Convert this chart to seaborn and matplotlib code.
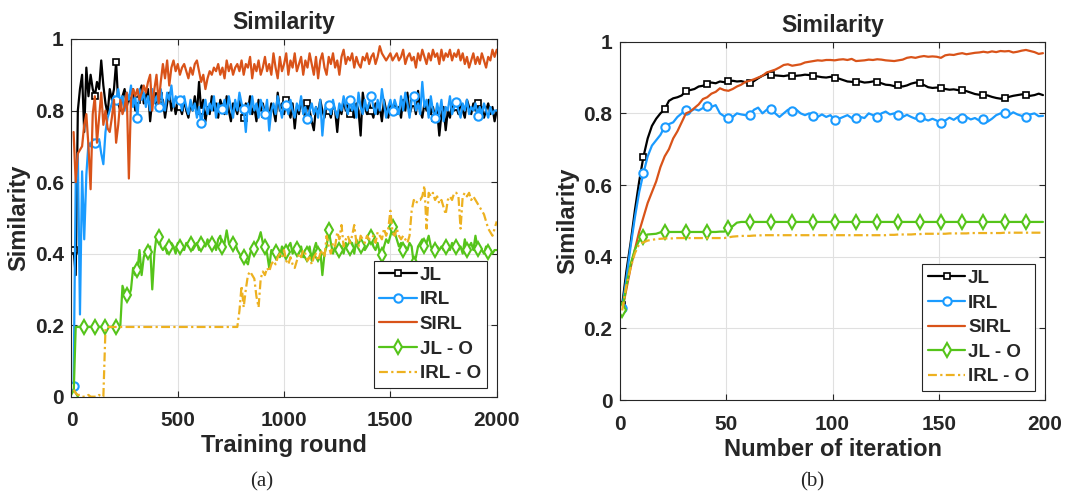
import numpy as np
import matplotlib
matplotlib.use("Agg")
import matplotlib.pyplot as plt
import seaborn as sns

# ---- data: (a) similarity vs training round (every 10 rounds) ----
rounds = np.arange(10, 2001, 10)

jl_a = [
    0.41, 0.34, 0.80, 0.86, 0.90, 0.74, 0.92, 0.84, 0.90, 0.86,
    0.84, 0.88, 0.86, 0.94, 0.87, 0.82, 0.79, 0.86, 0.83, 0.86,
    0.935, 0.82, 0.80, 0.84, 0.86, 0.81, 0.84, 0.82, 0.86, 0.80,
    0.83, 0.85, 0.87, 0.82, 0.84, 0.86, 0.77, 0.83, 0.85, 0.81,
    0.84, 0.80, 0.83, 0.78, 0.82, 0.85, 0.80, 0.83, 0.79, 0.82,
    0.81, 0.79, 0.83, 0.80, 0.78, 0.82, 0.80, 0.84, 0.79, 0.88,
    0.80, 0.83, 0.77, 0.81, 0.79, 0.84, 0.80, 0.82, 0.78, 0.83,
    0.81, 0.79, 0.84, 0.80, 0.77, 0.82, 0.81, 0.79, 0.83, 0.80,
    0.78, 0.82, 0.80, 0.84, 0.79, 0.81, 0.77, 0.83, 0.80, 0.82,
    0.79, 0.81, 0.78, 0.82, 0.80, 0.77, 0.85, 0.80, 0.82, 0.79,
    0.83, 0.80, 0.78, 0.82, 0.75, 0.81, 0.79, 0.83, 0.80, 0.78,
    0.82, 0.80, 0.77, 0.745, 0.81, 0.79, 0.83, 0.80, 0.78, 0.82,
    0.80, 0.78, 0.82, 0.80, 0.74, 0.81, 0.79, 0.83, 0.80, 0.82,
    0.79, 0.81, 0.78, 0.82, 0.80, 0.73, 0.85, 0.81, 0.79, 0.82,
    0.80, 0.78, 0.82, 0.79, 0.81, 0.77, 0.83, 0.80, 0.78, 0.82,
    0.80, 0.82, 0.79, 0.81, 0.78, 0.83, 0.80, 0.85, 0.79, 0.81,
    0.82, 0.79, 0.855, 0.80, 0.78, 0.82, 0.80, 0.83, 0.79, 0.81,
    0.78, 0.80, 0.73, 0.79, 0.81, 0.745, 0.80, 0.78, 0.82, 0.80,
    0.81, 0.79, 0.82, 0.80, 0.78, 0.83, 0.81, 0.79, 0.82, 0.80,
    0.82, 0.79, 0.81, 0.78, 0.80, 0.82, 0.79, 0.81, 0.77, 0.80,
]

irl_a = [
    0.03, 0.60, 0.68, 0.23, 0.63, 0.44, 0.62, 0.71, 0.70, 0.72,
    0.71, 0.70, 0.72, 0.68, 0.65, 0.74, 0.78, 0.80, 0.82, 0.84,
    0.83, 0.86, 0.82, 0.84, 0.80, 0.85, 0.83, 0.87, 0.81, 0.84,
    0.78, 0.86, 0.83, 0.85, 0.81, 0.84, 0.80, 0.86, 0.82, 0.84,
    0.81, 0.86, 0.82, 0.80, 0.85, 0.83, 0.87, 0.81, 0.84, 0.82,
    0.83, 0.80, 0.84, 0.81, 0.79, 0.83, 0.80, 0.82, 0.78, 0.81,
    0.765, 0.80, 0.83, 0.79, 0.82, 0.80, 0.84, 0.78, 0.82, 0.80,
    0.805, 0.83, 0.79, 0.84, 0.81, 0.78, 0.83, 0.80, 0.85, 0.82,
    0.805, 0.74, 0.82, 0.79, 0.84, 0.80, 0.82, 0.78, 0.83, 0.81,
    0.79, 0.83, 0.744, 0.80, 0.82, 0.79, 0.84, 0.81, 0.78, 0.82,
    0.815, 0.79, 0.83, 0.80, 0.78, 0.82, 0.80, 0.84, 0.79, 0.81,
    0.775, 0.80, 0.82, 0.79, 0.81, 0.78, 0.83, 0.73, 0.80, 0.82,
    0.815, 0.79, 0.83, 0.80, 0.78, 0.82, 0.80, 0.84, 0.81, 0.79,
    0.83, 0.80, 0.82, 0.78, 0.85, 0.81, 0.79, 0.83, 0.80, 0.82,
    0.84, 0.81, 0.79, 0.83, 0.80, 0.86, 0.82, 0.78, 0.81, 0.83,
    0.80, 0.83, 0.81, 0.79, 0.84, 0.80, 0.85, 0.82, 0.78, 0.83,
    0.84, 0.80, 0.82, 0.79, 0.88, 0.81, 0.83, 0.78, 0.84, 0.80,
    0.78, 0.82, 0.79, 0.83, 0.77, 0.81, 0.80, 0.84, 0.79, 0.81,
    0.825, 0.80, 0.78, 0.82, 0.80, 0.83, 0.79, 0.81, 0.80, 0.82,
    0.785, 0.81, 0.79, 0.82, 0.80, 0.78, 0.81, 0.79, 0.80, 0.80,
]

sirl_a = [
    0.74, 0.60, 0.68, 0.69, 0.70, 0.76, 0.79, 0.70, 0.58, 0.79,
    0.84, 0.71, 0.78, 0.85, 0.76, 0.80, 0.75, 0.74, 0.78, 0.83,
    0.71, 0.76, 0.83, 0.79, 0.81, 0.85, 0.61, 0.83, 0.86, 0.84,
    0.86, 0.83, 0.85, 0.87, 0.85, 0.88, 0.90, 0.80, 0.86, 0.90,
    0.82, 0.88, 0.93, 0.89, 0.94, 0.87, 0.92, 0.94, 0.91, 0.93,
    0.90, 0.92, 0.93, 0.91, 0.89, 0.92, 0.90, 0.93, 0.94, 0.91,
    0.88, 0.90, 0.86, 0.89, 0.91, 0.90, 0.92, 0.91, 0.93, 0.90,
    0.92, 0.89, 0.94, 0.91, 0.93, 0.90, 0.92, 0.93, 0.91, 0.94,
    0.90, 0.93, 0.92, 0.95, 0.89, 0.93, 0.91, 0.94, 0.90, 0.92,
    0.95, 0.91, 0.93, 0.90, 0.96, 0.92, 0.89, 0.95, 0.91, 0.93,
    0.96, 0.90, 0.94, 0.92, 0.96, 0.91, 0.93, 0.95, 0.90, 0.94,
    0.92, 0.96, 0.93, 0.90, 0.95, 0.89, 0.94, 0.96, 0.92, 0.90,
    0.95, 0.93, 0.96, 0.92, 0.94, 0.90, 0.95, 0.97, 0.93, 0.95,
    0.94, 0.96, 0.92, 0.95, 0.93, 0.92, 0.95, 0.94, 0.96, 0.93,
    0.95, 0.96, 0.93, 0.95, 0.98, 0.96, 0.95, 0.94, 0.95, 0.96,
    0.94, 0.95, 0.96, 0.94, 0.95, 0.97, 0.93, 0.95, 0.96, 0.94,
    0.95, 0.92, 0.96, 0.94, 0.97, 0.95, 0.93, 0.96, 0.94, 0.97,
    0.95, 0.96, 0.93, 0.97, 0.94, 0.96, 0.95, 0.97, 0.94, 0.96,
    0.95, 0.97, 0.94, 0.96, 0.93, 0.95, 0.92, 0.94, 0.96, 0.93,
    0.95, 0.93, 0.96, 0.94, 0.92, 0.95, 0.94, 0.97, 0.95, 0.97,
]

jlo_a = [
    0.0, 0.195, 0.195, 0.195, 0.195, 0.195, 0.195, 0.195, 0.195, 0.195,
    0.195, 0.195, 0.195, 0.195, 0.195, 0.195, 0.195, 0.195, 0.195, 0.195,
    0.195, 0.195, 0.20, 0.31, 0.29, 0.285, 0.28, 0.30, 0.36, 0.34,
    0.353, 0.41, 0.34, 0.39, 0.41, 0.405, 0.42, 0.30, 0.40, 0.45,
    0.447, 0.42, 0.41, 0.42, 0.40, 0.419, 0.43, 0.42, 0.40, 0.43,
    0.419, 0.42, 0.41, 0.43, 0.42, 0.428, 0.41, 0.42, 0.43, 0.41,
    0.428, 0.43, 0.42, 0.44, 0.42, 0.428, 0.43, 0.41, 0.44, 0.45,
    0.419, 0.43, 0.465, 0.43, 0.42, 0.428, 0.43, 0.41, 0.40, 0.39,
    0.391, 0.38, 0.37, 0.40, 0.42, 0.414, 0.43, 0.44, 0.46, 0.43,
    0.419, 0.40, 0.36, 0.41, 0.40, 0.405, 0.41, 0.39, 0.42, 0.41,
    0.405, 0.42, 0.43, 0.40, 0.41, 0.414, 0.40, 0.42, 0.39, 0.41,
    0.40, 0.42, 0.38, 0.41, 0.43, 0.40, 0.41, 0.34, 0.40, 0.42,
    0.465, 0.43, 0.40, 0.42, 0.41, 0.41, 0.42, 0.40, 0.43, 0.41,
    0.415, 0.43, 0.40, 0.44, 0.42, 0.42, 0.43, 0.41, 0.42, 0.43,
    0.447, 0.42, 0.41, 0.43, 0.40, 0.395, 0.42, 0.44, 0.43, 0.45,
    0.474, 0.46, 0.44, 0.42, 0.43, 0.409, 0.42, 0.41, 0.43, 0.42,
    0.37, 0.39, 0.42, 0.43, 0.44, 0.42, 0.43, 0.45, 0.42, 0.41,
    0.409, 0.42, 0.41, 0.42, 0.41, 0.419, 0.42, 0.41, 0.43, 0.42,
    0.419, 0.41, 0.42, 0.40, 0.44, 0.409, 0.42, 0.43, 0.41, 0.45,
    0.414, 0.42, 0.41, 0.40, 0.42, 0.405, 0.41, 0.40, 0.41, 0.41,
]

irlo_a = [
    0.02, 0.01, 0.005, 0.005, 0.0, 0.0, 0.0, 0.005, 0.0, 0.0,
    0.0, 0.0, 0.005, 0.0, 0.0, 0.19, 0.195, 0.195, 0.195, 0.195,
    0.195, 0.195, 0.195, 0.195, 0.195, 0.195, 0.195, 0.195, 0.195, 0.195,
    0.195, 0.195, 0.195, 0.195, 0.195, 0.195, 0.195, 0.195, 0.195, 0.195,
    0.195, 0.195, 0.195, 0.195, 0.195, 0.195, 0.195, 0.195, 0.195, 0.195,
    0.195, 0.195, 0.195, 0.195, 0.195, 0.195, 0.195, 0.195, 0.195, 0.195,
    0.195, 0.195, 0.195, 0.195, 0.195, 0.195, 0.195, 0.195, 0.195, 0.195,
    0.195, 0.195, 0.195, 0.195, 0.195, 0.195, 0.195, 0.195, 0.24, 0.31,
    0.25, 0.30, 0.34, 0.35, 0.34, 0.33, 0.28, 0.25, 0.33, 0.35,
    0.34, 0.36, 0.35, 0.37, 0.38, 0.37, 0.39, 0.40, 0.39, 0.41,
    0.38, 0.37, 0.39, 0.37, 0.36, 0.38, 0.40, 0.39, 0.41, 0.40,
    0.38, 0.39, 0.37, 0.39, 0.40, 0.38, 0.40, 0.41, 0.39, 0.45,
    0.42, 0.40, 0.43, 0.42, 0.46, 0.44, 0.48, 0.42, 0.44, 0.45,
    0.43, 0.45, 0.48, 0.43, 0.42, 0.45, 0.44, 0.43, 0.45, 0.44,
    0.44, 0.45, 0.43, 0.46, 0.45, 0.44, 0.47, 0.45, 0.47, 0.52,
    0.46, 0.45, 0.47, 0.45, 0.44, 0.45, 0.44, 0.43, 0.45, 0.52,
    0.55, 0.54, 0.55, 0.55, 0.56, 0.59, 0.47, 0.57, 0.56, 0.57,
    0.55, 0.56, 0.54, 0.55, 0.53, 0.51, 0.55, 0.56, 0.55, 0.57,
    0.57, 0.56, 0.47, 0.56, 0.57, 0.56, 0.57, 0.55, 0.56, 0.55,
    0.54, 0.53, 0.52, 0.51, 0.49, 0.47, 0.46, 0.45, 0.47, 0.49,
]

# ---- data: (b) similarity vs number of iteration (every 2 iterations) ----
iters = np.arange(1, 201, 2)

jl_b = [
    0.265, 0.36, 0.44, 0.53, 0.61, 0.679, 0.73, 0.765, 0.785, 0.80,
    0.811, 0.835, 0.842, 0.845, 0.85, 0.863, 0.865, 0.868, 0.875, 0.877,
    0.883, 0.886, 0.884, 0.889, 0.887, 0.889, 0.891, 0.889, 0.890, 0.887,
    0.885, 0.890, 0.898, 0.905, 0.910, 0.908, 0.906, 0.905, 0.904, 0.906,
    0.903, 0.905, 0.906, 0.908, 0.907, 0.905, 0.903, 0.901, 0.900, 0.902,
    0.899, 0.897, 0.893, 0.889, 0.888, 0.887, 0.889, 0.886, 0.887, 0.889,
    0.888, 0.884, 0.880, 0.879, 0.876, 0.878, 0.875, 0.878, 0.883, 0.886,
    0.885, 0.879, 0.873, 0.871, 0.872, 0.870, 0.868, 0.866, 0.867, 0.865,
    0.864, 0.862, 0.858, 0.854, 0.852, 0.851, 0.850, 0.846, 0.843, 0.841,
    0.843, 0.846, 0.849, 0.851, 0.853, 0.852, 0.849, 0.851, 0.855, 0.851,
]

irl_b = [
    0.256, 0.34, 0.43, 0.51, 0.58, 0.633, 0.68, 0.71, 0.725, 0.74,
    0.763, 0.77, 0.775, 0.79, 0.80, 0.809, 0.805, 0.812, 0.808, 0.815,
    0.821, 0.818, 0.823, 0.80, 0.792, 0.788, 0.79, 0.80, 0.797, 0.795,
    0.795, 0.81, 0.816, 0.80, 0.81, 0.812, 0.80, 0.79, 0.80, 0.81,
    0.807, 0.81, 0.80, 0.795, 0.80, 0.793, 0.79, 0.797, 0.79, 0.795,
    0.781, 0.785, 0.79, 0.795, 0.787, 0.786, 0.79, 0.787, 0.80, 0.795,
    0.791, 0.80, 0.805, 0.797, 0.80, 0.795, 0.79, 0.796, 0.79, 0.785,
    0.791, 0.785, 0.78, 0.785, 0.78, 0.772, 0.78, 0.788, 0.782, 0.79,
    0.786, 0.79, 0.783, 0.787, 0.78, 0.785, 0.777, 0.785, 0.795, 0.80,
    0.800, 0.795, 0.803, 0.797, 0.793, 0.791, 0.797, 0.80, 0.792, 0.793,
]

sirl_b = [
    0.25, 0.31, 0.37, 0.42, 0.47, 0.51, 0.55, 0.58, 0.61, 0.65,
    0.68, 0.70, 0.73, 0.75, 0.775, 0.80, 0.805, 0.815, 0.825, 0.84,
    0.845, 0.855, 0.86, 0.87, 0.865, 0.863, 0.868, 0.875, 0.88, 0.888,
    0.891, 0.895, 0.90, 0.905, 0.914, 0.918, 0.922, 0.928, 0.935, 0.937,
    0.933, 0.935, 0.937, 0.942, 0.944, 0.946, 0.948, 0.947, 0.949, 0.949,
    0.948, 0.950, 0.951, 0.949, 0.952, 0.946, 0.947, 0.948, 0.950, 0.949,
    0.951, 0.950, 0.948, 0.947, 0.946, 0.948, 0.950, 0.955, 0.957, 0.955,
    0.958, 0.960, 0.958, 0.959, 0.958, 0.955, 0.962, 0.964, 0.963, 0.966,
    0.968, 0.965, 0.967, 0.969, 0.970, 0.972, 0.970, 0.973, 0.971, 0.974,
    0.973, 0.974, 0.970, 0.972, 0.975, 0.977, 0.974, 0.971, 0.966, 0.968,
]

jlo_b = [
    0.25, 0.32, 0.38, 0.42, 0.445, 0.456, 0.462, 0.463, 0.464, 0.468,
    0.469, 0.469, 0.469, 0.469, 0.469, 0.469, 0.469, 0.469, 0.469, 0.469,
    0.469, 0.469, 0.469, 0.470, 0.470, 0.479, 0.485, 0.495, 0.497, 0.497,
    0.497, 0.497, 0.497, 0.497, 0.497, 0.497, 0.497, 0.497, 0.497, 0.497,
    0.497, 0.497, 0.497, 0.497, 0.497, 0.497, 0.497, 0.497, 0.497, 0.497,
    0.497, 0.497, 0.497, 0.497, 0.497, 0.497, 0.497, 0.497, 0.497, 0.497,
    0.497, 0.497, 0.497, 0.497, 0.497, 0.497, 0.497, 0.497, 0.497, 0.497,
    0.497, 0.497, 0.497, 0.497, 0.497, 0.497, 0.497, 0.497, 0.497, 0.497,
    0.497, 0.497, 0.497, 0.497, 0.497, 0.497, 0.497, 0.497, 0.497, 0.497,
    0.497, 0.497, 0.497, 0.497, 0.497, 0.497, 0.497, 0.497, 0.497, 0.497,
]

irlo_b = [
    0.25, 0.32, 0.37, 0.41, 0.435, 0.44, 0.445, 0.447, 0.449, 0.450,
    0.451, 0.451, 0.451, 0.452, 0.452, 0.452, 0.452, 0.452, 0.452, 0.452,
    0.452, 0.452, 0.452, 0.452, 0.452, 0.454, 0.456, 0.457, 0.458, 0.458,
    0.458, 0.459, 0.459, 0.460, 0.460, 0.460, 0.460, 0.460, 0.460, 0.460,
    0.460, 0.460, 0.460, 0.460, 0.460, 0.460, 0.460, 0.460, 0.460, 0.460,
    0.460, 0.460, 0.460, 0.460, 0.460, 0.460, 0.460, 0.460, 0.460, 0.460,
    0.460, 0.460, 0.460, 0.461, 0.461, 0.462, 0.462, 0.462, 0.462, 0.463,
    0.463, 0.464, 0.464, 0.464, 0.464, 0.464, 0.464, 0.465, 0.465, 0.465,
    0.465, 0.465, 0.466, 0.466, 0.466, 0.466, 0.466, 0.466, 0.466, 0.466,
    0.467, 0.467, 0.467, 0.467, 0.467, 0.467, 0.467, 0.467, 0.467, 0.467,
]

y_ticks = [0, 0.2, 0.4, 0.6, 0.8, 1]
y_tick_labels = ["0", "0.2", "0.4", "0.6", "0.8", "1"]
x_ticks_a = [0, 500, 1000, 1500, 2000]
x_ticks_b = [0, 50, 100, 150, 200]

C_JL = "#000000"
C_IRL = "#1A9BFF"
C_SIRL = "#D95319"
C_JLO = "#55C41A"
C_IRLO = "#EDB120"

sns.set_theme(style="whitegrid")
plt.rcParams.update(
    {
        "font.family": ["Liberation Sans", "DejaVu Sans"],
        "font.weight": "bold",
        "axes.edgecolor": "#262626",
        "axes.linewidth": 0.8,
        "grid.color": "#E0E0E0",
        "grid.linewidth": 0.8,
        "xtick.direction": "in",
        "ytick.direction": "in",
        "xtick.top": True,
        "ytick.right": True,
        "xtick.bottom": True,
        "ytick.left": True,
        "xtick.major.size": 4,
        "ytick.major.size": 4,
        "xtick.major.width": 0.8,
        "ytick.major.width": 0.8,
        "xtick.color": "#262626",
        "ytick.color": "#262626",
    }
)


def draw_panel(ax, x, jl, irl, sirl, jlo, irlo, mk, mk_d):
    lw = 1.6
    sns.lineplot(x=x, y=jl, ax=ax, color=C_JL, lw=lw, marker="s", ms=4,
                 mfc="white", mec=C_JL, mew=1.2, markevery=mk, errorbar=None,
                 label="JL")
    sns.lineplot(x=x, y=irl, ax=ax, color=C_IRL, lw=lw, marker="o", ms=6,
                 mfc="white", mec=C_IRL, mew=1.5, markevery=mk, errorbar=None,
                 label="IRL")
    sns.lineplot(x=x, y=sirl, ax=ax, color=C_SIRL, lw=lw, errorbar=None,
                 label="SIRL")
    sns.lineplot(x=x, y=jlo, ax=ax, color=C_JLO, lw=lw, marker="d", ms=7,
                 mfc="white", mec=C_JLO, mew=1.5, markevery=mk_d,
                 errorbar=None, label="JL - O")
    sns.lineplot(x=x, y=irlo, ax=ax, color=C_IRLO, lw=lw,
                 linestyle=(0, (4, 1.5, 1, 1.5)), errorbar=None, label="IRL - O")


fig = plt.figure(figsize=(10.65, 4.93), dpi=100)
ax_a = fig.add_axes([0.0671, 0.1953, 0.3993, 0.7256])
ax_b = fig.add_axes([0.5822, 0.1886, 0.3991, 0.7268])

draw_panel(ax_a, rounds, jl_a, irl_a, sirl_a, jlo_a, irlo_a, 10, 5)
draw_panel(ax_b, iters, jl_b, irl_b, sirl_b, jlo_b, irlo_b, 5, 5)

for ax, xt, xlab, xmax in [
    (ax_a, x_ticks_a, "Training round", 2000),
    (ax_b, x_ticks_b, "Number of iteration", 200),
]:
    ax.set_xlim(0, xmax)
    ax.set_ylim(0, 1)
    ax.set_xticks(xt)
    ax.set_xticklabels([str(t) for t in xt], fontsize=15, fontweight="bold")
    ax.set_yticks(y_ticks)
    ax.set_yticklabels(y_tick_labels, fontsize=15, fontweight="bold")
    ax.tick_params(axis="x", pad=10.5)
    ax.tick_params(axis="y", pad=5.5)
    ax.set_xlabel(xlab, fontsize=17, fontweight="bold", labelpad=3)
    ax.set_ylabel("Similarity", fontsize=17, fontweight="bold", labelpad=3)
    ax.set_title("Similarity", fontsize=16.5, fontweight="bold", pad=7)
    for s in ax.spines.values():
        s.set_visible(True)
    ax.grid(True)
    leg = ax.legend(
        loc="lower right",
        bbox_to_anchor=(0.976, 0.025),
        borderaxespad=0,
        fancybox=False,
        framealpha=1,
        edgecolor="#262626",
        prop={"size": 13.5, "weight": "bold"},
        handlelength=2.0,
        handletextpad=0.15,
        labelspacing=0.4,
        borderpad=0.3,
    )
    leg.get_frame().set_linewidth(0.8)

fig.text(262 / 1065, 1 - 482 / 493, "(a)", ha="center", va="center",
         family="Liberation Serif", fontsize=15, fontweight="normal")
fig.text(812 / 1065, 1 - 482 / 493, "(b)", ha="center", va="center",
         family="Liberation Serif", fontsize=15, fontweight="normal")

fig.savefig("out.png", dpi=100)
